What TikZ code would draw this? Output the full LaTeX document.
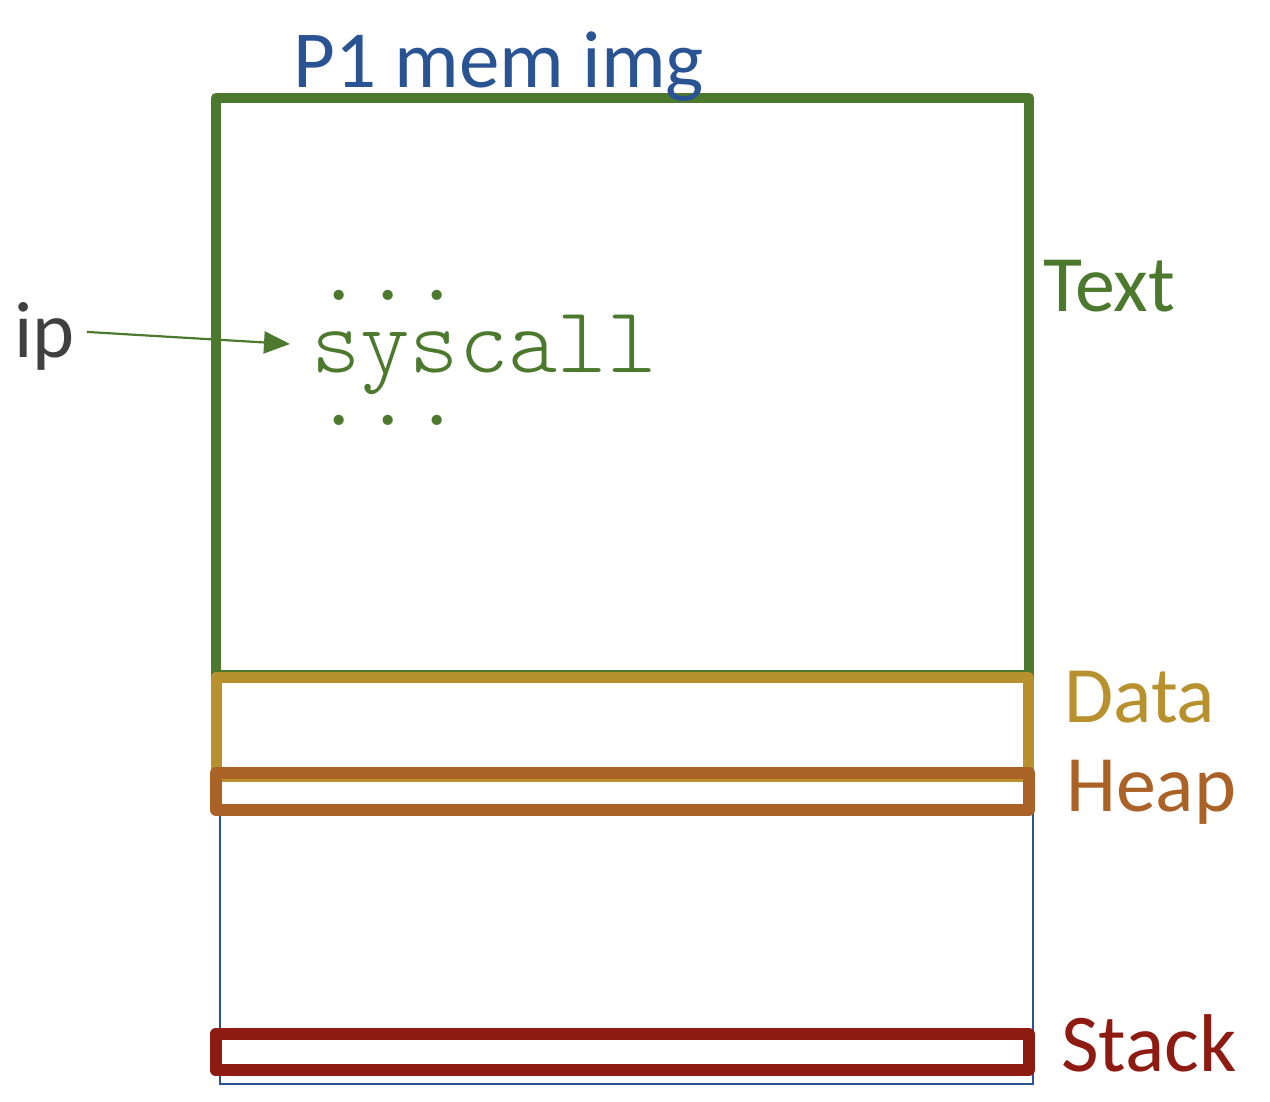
\documentclass[tikz,border=0pt]{standalone}
\usepackage{fontspec}
\setmainfont{Carlito}
\newfontfamily\codefont{lmmonolt10-regular.otf}
\usetikzlibrary{arrows.meta}
\definecolor{cgreen}{HTML}{4C792D}
\definecolor{cgold}{HTML}{B8912F}
\definecolor{cheap}{HTML}{AB6226}
\definecolor{cstack}{HTML}{8E1B12}
\definecolor{cblue}{HTML}{2A5394}
\definecolor{cgray}{HTML}{404040}
\tikzset{
  seg/.style={line width=#1, line join=round},
  lbl/.style={anchor=base west, inner sep=0pt, font=\fontsize{80}{90}\selectfont},
  code/.style={anchor=base west, inner sep=0pt, text=cgreen, font=\codefont\fontsize{94}{100}\selectfont},
  dotrow/.style={code, text height=12pt, text depth=0pt},
}
\begin{document}
\begin{tikzpicture}[x=1pt,y=-1pt]
\useasboundingbox (0,0) rectangle (1270,1102);
% outer memory image
\draw[cblue, line width=2.5pt] (220,98) rectangle (1033,1084);
% segments
\draw[cgreen, seg=10pt] (216,98) rectangle (1029,675);
\draw[cgold, seg=11pt] (216,677.5) rectangle (1028.5,776);
\draw[cheap, seg=12pt] (216,773) rectangle (1028.5,810);
\draw[cstack, seg=12pt] (215.5,1034) rectangle (1028.5,1070);
% labels
\node[lbl, text=cblue, font=\fontsize{81}{90}\selectfont] (title) at (293,88) {P1 mem img};
\node[lbl, text=cgreen] (text) at (1043,312) {Text};
\node[lbl, text=cgold] (data) at (1064,722) {Data};
\node[lbl, text=cheap] (heap) at (1066,811) {Heap};
\node[lbl, text=cstack, font=\fontsize{82}{90}\selectfont] (stack) at (1061,1071) {Stack};
\node[lbl, text=cgray] (ip) at (14,357) {ip};
% code
\node[dotrow] (dots1) at (314,301) {...};
\node[code, text height=56pt, text depth=18pt] (sys) at (311,372) {syscall};
\node[dotrow] (dots2) at (314,425) {...};
% arrow
\coordinate (iptip) at (290,344);
\draw[cgreen, line width=2.2pt, -{Triangle[length=26pt,width=22pt]}] ([xshift=12pt,yshift=4pt]ip.east) -- (iptip);
\end{tikzpicture}
\end{document}
